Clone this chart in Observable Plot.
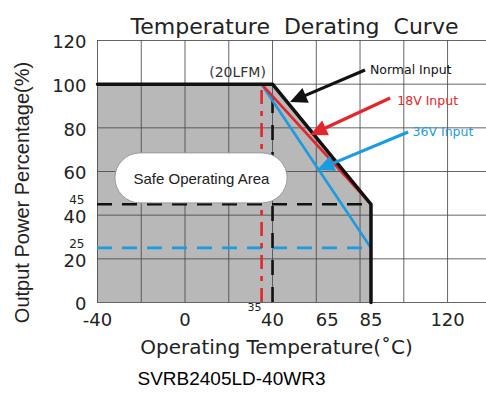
<!DOCTYPE html>
<html><head><meta charset="utf-8">
<script src="https://cdn.jsdelivr.net/npm/d3@7"></script>
<script src="https://cdn.jsdelivr.net/npm/@observablehq/plot@0.6"></script>
<style>body{margin:0;background:#fff} svg{display:block}</style>
</head><body><div id="chart"></div>
<script>
// ---- text ----
const titleText = "Temperature  Derating  Curve";
const xTitle = "Operating Temperature(˚C)";
const yTitle = "Output Power Percentage(%)";
const captionText = "SVRB2405LD-40WR3";
const lfmText = "(20LFM)";
const safeText = "Safe Operating Area";

// ---- ticks / grid ----
const xTickLabels = [-40, 0, 40, 65, 85, 120];
const xSmallTicks = [35];
const yTickLabels = [0, 20, 40, 60, 80, 100, 120];
const ySmallTicks = [25, 45];
const xGrid = [-40, -20, 0, 20, 40, 60, 80, 100, 120, 140];
const yGrid = [0, 20, 40, 60, 80, 100, 120];

// ---- series ----
const normalTemp = [-40, 40, 85, 85];
const normalPower = [100, 100, 45, 0];
const v18Temp = [35, 85];
const v18Power = [100, 45];
const v36Temp = [35, 85];
const v36Power = [100, 25];

// ---- reference lines ----
const refHPower = [45, 25];
const refHEnd = [85, 85];
const refHColor = ["#111", "#1b9be0"];
const refVTemp = [40, 35];
const refVTop = [100, 100];
const refVColor = ["#111", "#e3262b"];

// ---- annotations ----
const arrowNames = ["Normal Input", "18V Input", "36V Input"];
const arrowColors = ["#111", "#e3262b", "#1b9be0"];
const arrowX1 = [82.5, 94, 102.2];
const arrowY1 = [106.3, 93.4, 77.9];
const arrowX2 = [48.2, 57.4, 60.6];
const arrowY2 = [91.6, 76.5, 60.5];
const labelX = [84.5, 97, 104];
const labelY = [106.3, 92.5, 78.3];
const boxX = [-31.8, 46.9];
const boxY = [45.4, 68.3];
const safeAt = [7.5, 56.6];
const lfmAt = [24, 105.4];

const pts = (xs, ys) => xs.map((x, i) => ({x, y: ys[i]}));
const normal = pts(normalTemp, normalPower);
const v18 = pts(v18Temp, v18Power);
const v36 = pts(v36Temp, v36Power);
const refH = refHPower.map((y, i) => ({y, x2: refHEnd[i], c: refHColor[i]}));
const refV = refVTemp.map((x, i) => ({x, y2: refVTop[i], c: refVColor[i]}));
const arrows = arrowNames.map((n, i) => ({n, c: arrowColors[i], x1: arrowX1[i], y1: arrowY1[i], x2: arrowX2[i], y2: arrowY2[i], lx: labelX[i], ly: labelY[i]}));

const FONT = "DejaVu Sans";

function arrowMark(index, scales) {
  const g = d3.create("svg:g");
  for (const a of arrows) {
    const sx = scales.x(a.x1), sy = scales.y(a.y1), tx = scales.x(a.x2), ty = scales.y(a.y2);
    const dx = tx - sx, dy = ty - sy, len = Math.hypot(dx, dy);
    const ux = dx / len, uy = dy / len, px = -uy, py = ux;
    const L = 17, W = 8;
    const bx = tx - ux * L, by = ty - uy * L;
    g.append("line").attr("x1", sx).attr("y1", sy).attr("x2", bx + ux * 2).attr("y2", by + uy * 2)
      .attr("stroke", a.c).attr("stroke-width", 3.2);
    g.append("path").attr("d", `M${tx},${ty}L${bx + px * W},${by + py * W}L${bx - px * W},${by - py * W}Z`).attr("fill", a.c);
  }
  return g.node();
}

const chart = Plot.plot({
  width: 486, height: 396,
  marginLeft: 97, marginRight: 0, marginTop: 40, marginBottom: 94,
  x: {domain: [-40, 137.8], axis: null},
  y: {domain: [0, 120], axis: null},
  style: {fontFamily: FONT, background: "#fff", overflow: "visible"},
  marks: [
    Plot.areaY(normal, {x: "x", y: "y", fill: "#b8b8b8"}),
    Plot.ruleX(xGrid, {stroke: "#4a4a4a", strokeWidth: 1, strokeOpacity: 0.85}),
    Plot.ruleY(yGrid, {stroke: "#4a4a4a", strokeWidth: 1, strokeOpacity: 0.85}),
    Plot.ruleY(refH, {y: "y", x1: -40, x2: "x2", stroke: "c", strokeWidth: 2.6, strokeDasharray: "15,10"}),
    Plot.ruleX([refV[0]], {x: "x", y1: 0, y2: "y2", stroke: "c", strokeWidth: 2.6, strokeDasharray: "15,12"}),
    Plot.ruleX([refV[1]], {x: "x", y1: 0, y2: "y2", stroke: "c", strokeWidth: 2.6, strokeDasharray: "14,7,5,7"}),
    Plot.rect([0], {x1: boxX[0], x2: boxX[1], y1: boxY[0], y2: boxY[1], rx: 25, fill: "#fff", stroke: "#9a9a9a", strokeWidth: 1}),
    Plot.text([safeText], {x: safeAt[0], y: safeAt[1], fontSize: 15, fill: "#222", fontFamily: "Liberation Sans"}),
    Plot.line(v36, {x: "x", y: "y", stroke: "#1b9be0", strokeWidth: 2.6}),
    Plot.line(v18, {x: "x", y: "y", stroke: "#e3262b", strokeWidth: 2.6}),
    Plot.line(normal, {x: "x", y: "y", stroke: "#111", strokeWidth: 3.5}),
    arrowMark,
    Plot.text(arrows, {x: "lx", y: "ly", text: "n", fill: "c", textAnchor: "start", fontSize: 12.5, fontFamily: FONT}),
    Plot.text([lfmText], {x: lfmAt[0], y: lfmAt[1], fontSize: 14, fill: "#333"}),
    // tick labels
    Plot.text(xTickLabels, {x: d => d, text: d => String(d), frameAnchor: "bottom", dy: 23, fontSize: 18, fill: "#222"}),
    Plot.text(xSmallTicks, {x: d => d, text: d => String(d), frameAnchor: "bottom", dy: 8, dx: -7, fontSize: 11, fill: "#222"}),
    Plot.text(yTickLabels, {y: d => d, text: d => String(d), frameAnchor: "left", textAnchor: "end", dx: -11, dy: 2, fontSize: 18, fill: "#222"}),
    Plot.text(ySmallTicks, {y: d => d, text: d => String(d), frameAnchor: "left", textAnchor: "end", dx: -13, dy: -4, fontSize: 12, fill: "#222"}),
    // titles
    Plot.text([yTitle], {frameAnchor: "left", textAnchor: "middle", dx: -75, dy: 21, rotate: -90, fontSize: 20, fill: "#222", fontFamily: "Liberation Sans"}),
    Plot.text([xTitle], {frameAnchor: "bottom", textAnchor: "middle", dx: -15.5, dy: 51, fontSize: 20, fill: "#222"}),
    Plot.text([titleText], {frameAnchor: "top", textAnchor: "middle", dx: 2.5, dy: -22, fontSize: 22, fill: "#222"}),
    Plot.text([captionText], {frameAnchor: "bottom-left", textAnchor: "start", dx: 40, dy: 82, fontSize: 19, fill: "#000", fontFamily: "Liberation Sans Narrow, Liberation Sans"})
  ]
});
document.getElementById("chart").appendChild(chart);
</script>
</body></html>
